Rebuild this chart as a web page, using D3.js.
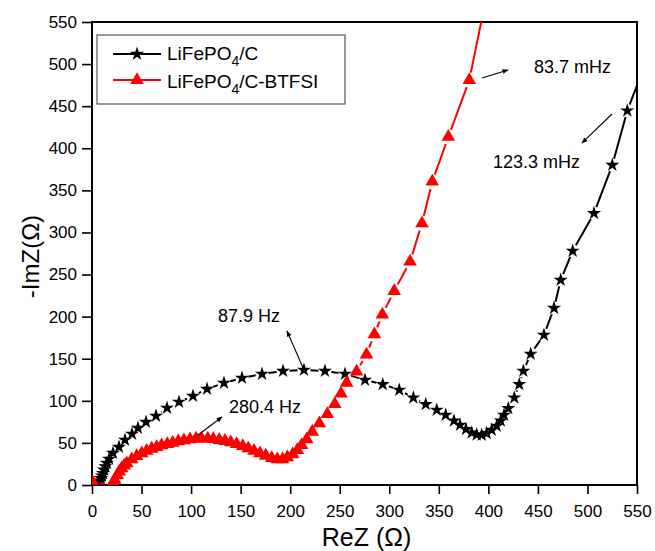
<!DOCTYPE html>
<html>
<head>
<meta charset="utf-8">
<script src="https://cdn.jsdelivr.net/npm/d3@7"></script>
<style>
  html, body { margin: 0; padding: 0; background: #fff; }
  svg { display: block; font-family: "Liberation Sans", Arial, Helvetica, sans-serif; }
</style>
</head>
<body>
<svg id="chart" width="655" height="551"></svg>
<script>
// Nyquist data: real part (ReZ, Ω) and negative imaginary part (-ImZ, Ω)
const seriesNames = ["LiFePO4/C", "LiFePO4/C-BTFSI"];

const blackRe = [6, 7, 8, 9, 10, 11, 12, 13.5, 15, 17.2, 21.2, 27.2, 33.3, 40.4, 46.4, 54.5, 64.6, 75.7,
  87.8, 101.9, 116.1, 133.2, 151.4, 171.6, 192.8, 213.9, 235.1, 255.3, 275.5, 293.4, 310.1, 324.3,
  336.8, 347.9, 356.9, 365.3, 371.4, 377.4, 383.2, 388.2, 393.3, 398.3, 403.4, 408.4, 412.5, 415.8,
  420.1, 426.2, 431.2, 435.3, 442.7, 456.1, 466.3, 473.0, 485.1, 506.6, 525.1, 540.2, 560];
const blackIm = [1, 3, 5, 8, 11, 14, 18, 22, 26, 30.9, 38.0, 45.1, 53.5, 60.6, 67.7, 74.8, 82.0, 91.5,
  98.6, 105.7, 114.0, 121.2, 127.1, 131.9, 135.4, 136.6, 135.4, 131.9, 124.7, 119.6, 112.9, 103.7,
  95.9, 89.1, 83.2, 76.4, 71.3, 66.2, 62.1, 59.8, 59.4, 61.4, 65.3, 70.1, 76.4, 83.2,
  91.1, 103.7, 119.6, 135.4, 155.6, 178.2, 210.2, 243.5, 278.0, 322.8, 380.1, 444.6, 505];

const redRe = [1, 20, 21.5, 23, 25.5, 27.5, 30, 32.5, 35, 40.1, 45.1, 50.2, 55.2, 60.2, 65.3, 70.3, 76.0,
  81.4, 87.1, 92.8, 98.9, 105.0, 110.7, 116.8, 122.4, 128.5, 134.2, 140.0, 146.0, 152.1, 157.7, 163.5,
  169.5, 175.3, 181.4, 187.0, 192.4, 197.1, 202.5, 207.2, 211.6, 216.7, 222.3, 229.4, 237.5, 245,
  251.3, 257, 267, 277, 285, 293, 305, 321, 333, 343.4, 359.6, 380.8, 398];
const redIm = [3, 0.5, 2, 6, 11.9, 16, 19.8, 23, 25.8, 30.5, 34.4, 37.7, 40.7, 43.1, 45.1, 47.2, 48.7,
  50.2, 51.9, 53.1, 54.3, 55.0, 55.0, 55.0, 54.6, 53.5, 52.3, 50.7, 48.7, 46.3, 43.6, 40.7,
  37.7, 34.8, 32.1, 30.5, 30.5, 32.9, 36.5, 41.6, 47.5, 54.3, 63.3, 73.3, 84.3, 96,
  108.5, 121.5, 134.6, 155, 179, 202.5, 230.5, 265.3, 310.9, 360.3, 413.5, 481.1, 580];

const xTicks = d3.range(0, 551, 50);
const yTicks = d3.range(0, 551, 50);
const minorTicks = d3.range(0, 551, 25);

// Frequency annotations: label, label anchor, arrow tail and arrow head (data units)
const notes = [
  { text: "87.9 Hz",   at: [127.2, 193.6], from: [213.9, 136.6], to: [196.8, 182.9] },
  { text: "280.4 Hz",  at: [138.3, 85.5],  from: [107.0, 59.4],  to: [131.2, 80.8] },
  { text: "83.7 mHz",  at: [446.1, 489.4], from: [393.6, 483.5], to: [419.8, 493.0] },
  { text: "123.3 mHz", at: [404.7, 376.6], from: [524.8, 440.7], to: [494.5, 406.3] }
];

const svg = d3.select("#chart");
const M = { left: 92, right: 637, top: 22, bottom: 485 };

const x = d3.scaleLinear().domain([0, 550]).range([M.left, M.right]);
const y = d3.scaleLinear().domain([0, 550]).range([M.bottom, M.top]);

svg.append("rect").attr("width", 655).attr("height", 551).attr("fill", "#fff");

const defs = svg.append("defs");
defs.append("clipPath").attr("id", "plotClip")
  .append("rect").attr("x", M.left).attr("y", M.top)
  .attr("width", M.right - M.left).attr("height", M.bottom - M.top);

defs.append("marker")
  .attr("id", "arrowHead").attr("markerUnits", "userSpaceOnUse")
  .attr("viewBox", "0 0 10 10").attr("refX", 9).attr("refY", 5)
  .attr("markerWidth", 8).attr("markerHeight", 6).attr("orient", "auto")
  .append("path").attr("d", "M0,1 L10,5 L0,9 Z").attr("fill", "#000");

// Axes
const tickFont = 17;
const gx = svg.append("g").attr("transform", `translate(0,${M.bottom})`);
gx.call(d3.axisBottom(x).tickValues(minorTicks).tickSize(5).tickFormat(""));
gx.call(d3.axisBottom(x).tickValues(xTicks).tickSize(9).tickPadding(11).tickFormat(d3.format("d")));
gx.selectAll(".domain").remove();

const gy = svg.append("g").attr("transform", `translate(${M.left},0)`);
gy.call(d3.axisLeft(y).tickValues(minorTicks).tickSize(5).tickFormat(""));
gy.call(d3.axisLeft(y).tickValues(yTicks).tickSize(10).tickPadding(5).tickFormat(d3.format("d")));
gy.selectAll(".domain").remove();

svg.selectAll(".tick line").attr("stroke", "#000").attr("stroke-width", 1.6);
svg.selectAll(".tick text").attr("font-size", tickFont).attr("fill", "#000")
  .attr("font-family", "'Liberation Sans', Arial, sans-serif");

// Frame
svg.append("rect")
  .attr("x", M.left).attr("y", M.top)
  .attr("width", M.right - M.left).attr("height", M.bottom - M.top)
  .attr("fill", "none").attr("stroke", "#000").attr("stroke-width", 2);

// Axis titles
svg.append("text")
  .attr("x", (M.left + M.right) / 2 + 2).attr("y", 546)
  .attr("text-anchor", "middle").attr("font-size", 25).attr("fill", "#000")
  .text("ReZ (Ω)");
svg.append("text")
  .attr("transform", `translate(39,${(M.top + M.bottom) / 2 + 3}) rotate(-90)`)
  .attr("text-anchor", "middle").attr("font-size", 24).attr("fill", "#000")
  .text("-ImZ(Ω)");

// Series drawing: line segments stop short of each symbol
const starSym = d3.symbol().type(d3.symbolStar).size(62);
const triSym = d3.symbol().type(d3.symbolTriangle).size(80);

function drawSeries(g, re, im, color, sym, gap) {
  const pts = re.map((v, i) => [x(v), y(im[i])]);
  const segs = [];
  for (let i = 0; i < pts.length - 1; i++) {
    const [x0, y0] = pts[i], [x1, y1] = pts[i + 1];
    const L = Math.hypot(x1 - x0, y1 - y0);
    if (L <= 2 * gap + 0.5) continue;
    const ux = (x1 - x0) / L, uy = (y1 - y0) / L;
    segs.push([x0 + ux * gap, y0 + uy * gap, x1 - ux * gap, y1 - uy * gap]);
  }
  g.selectAll("line.seg").data(segs).join("line")
    .attr("class", "seg")
    .attr("x1", d => d[0]).attr("y1", d => d[1])
    .attr("x2", d => d[2]).attr("y2", d => d[3])
    .attr("stroke", color).attr("stroke-width", 2);
  g.selectAll("path.sym").data(pts).join("path")
    .attr("class", "sym")
    .attr("transform", d => `translate(${d[0]},${d[1]})`)
    .attr("d", sym).attr("fill", color);
}

const plot = svg.append("g").attr("clip-path", "url(#plotClip)");
drawSeries(plot.append("g"), blackRe, blackIm, "#000", starSym, 6.5);
drawSeries(plot.append("g"), redRe, redIm, "#ff0000", triSym, 7.5);

// Annotations
const ann = svg.append("g");
notes.forEach(n => {
  ann.append("line")
    .attr("x1", x(n.from[0])).attr("y1", y(n.from[1]))
    .attr("x2", x(n.to[0])).attr("y2", y(n.to[1]))
    .attr("stroke", "#000").attr("stroke-width", 1.1)
    .attr("marker-end", "url(#arrowHead)");
  ann.append("text")
    .attr("x", x(n.at[0])).attr("y", y(n.at[1]))
    .attr("font-size", 18).attr("fill", "#000")
    .text(n.text);
});

// Legend
const lg = svg.append("g");
lg.append("rect").attr("x", 97).attr("y", 35).attr("width", 248).attr("height", 69)
  .attr("fill", "#fff").attr("stroke", "#555").attr("stroke-width", 1.2);
const legendRows = [
  { name: seriesNames[0], color: "#000", sym: starSym, ly: 54, ty: 60 },
  { name: seriesNames[1], color: "#ff0000", sym: triSym, ly: 80, ty: 88 }
];
legendRows.forEach(r => {
  lg.append("line").attr("x1", 113).attr("x2", 161).attr("y1", r.ly).attr("y2", r.ly)
    .attr("stroke", r.color).attr("stroke-width", 2);
  lg.append("path").attr("transform", `translate(137,${r.ly})`).attr("d", r.sym).attr("fill", r.color);
  const parts = r.name.split("4");
  const t = lg.append("text").attr("x", 167).attr("y", r.ty).attr("font-size", 19).attr("fill", "#000");
  t.append("tspan").text(parts[0]);
  t.append("tspan").attr("dy", 6).attr("font-size", 14).text("4");
  t.append("tspan").attr("dy", -6).text(parts[1]);
});
</script>
</body>
</html>
